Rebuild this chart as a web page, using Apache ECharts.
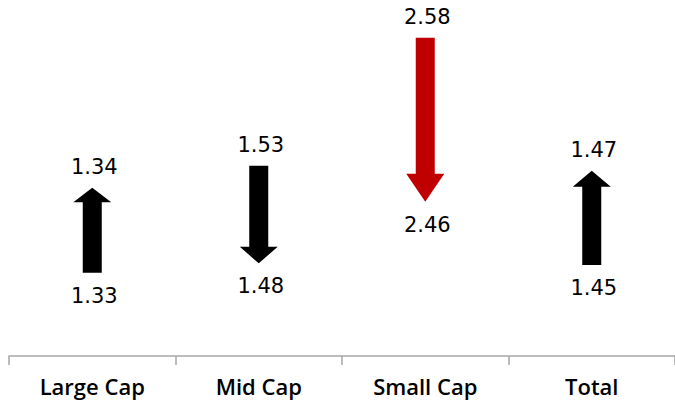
<!DOCTYPE html>
<html>
<head>
<meta charset="utf-8">
<script src="https://cdn.jsdelivr.net/npm/echarts@6/dist/echarts.min.js"></script>
<style>
  html, body { margin: 0; padding: 0; background: #fff; }
  #chart { width: 675px; height: 406px; }
</style>
</head>
<body>
<div id="chart"></div>
<script>
// Valuation multiple per segment: where it started and where it ended
const categories = ['Large Cap', 'Mid Cap', 'Small Cap', 'Total'];
const startValues = [1.33, 1.53, 2.58, 1.45];
const endValues = [1.34, 1.48, 2.46, 1.47];

// Each segment is read on its own vertical scale so small moves stay visible
const scaleMin = [1.3202, 1.4325, 2.3471, 1.4307];
const scaleMax = [1.3621, 1.6149, 2.6076, 1.5062];

const highlightCategory = 'Small Cap';
const LABEL_FONT = '21px "DejaVu Sans", sans-serif';

function renderArrow(params, api) {
  const cat = api.value(0);
  const from = api.value(1);
  const to = api.value(2);
  const p0 = api.coord([cat, from]);
  const p1 = api.coord([cat, to]);
  const x = p0[0];
  const dir = p1[1] < p0[1] ? -1 : 1;           // -1: arrow points up
  const len = Math.abs(p1[1] - p0[1]);
  const headLen = len * 0.17;
  const shaftHalf = 9.5;
  const headHalf = 19;
  const neckY = p1[1] - dir * headLen;
  const points = [
    [x - shaftHalf, p0[1]], [x + shaftHalf, p0[1]],
    [x + shaftHalf, neckY], [x + headHalf, neckY],
    [x, p1[1]],
    [x - headHalf, neckY], [x - shaftHalf, neckY]
  ];
  const fill = categories[cat] === highlightCategory ? '#c00000' : '#000000';
  const topY = Math.min(p0[1], p1[1]);
  const botY = Math.max(p0[1], p1[1]);
  const topVal = dir < 0 ? to : from;
  const botVal = dir < 0 ? from : to;
  return {
    type: 'group',
    children: [
      { type: 'polygon', shape: { points: points }, style: { fill: fill } },
      { type: 'text', x: x + 2, y: topY - 21,
        style: { text: topVal.toFixed(2), font: LABEL_FONT, fill: '#000', align: 'center', verticalAlign: 'middle' } },
      { type: 'text', x: x + 2, y: botY + 23,
        style: { text: botVal.toFixed(2), font: LABEL_FONT, fill: '#000', align: 'center', verticalAlign: 'middle' } }
    ]
  };
}

const yAxes = categories.map((c, i) => ({
  type: 'value', min: scaleMin[i], max: scaleMax[i], show: false, splitLine: { show: false }
}));

const series = categories.map((c, i) => ({
  type: 'custom',
  name: c,
  xAxisIndex: 0,
  yAxisIndex: i,
  renderItem: renderArrow,
  encode: { x: 0, y: [1, 2] },
  data: [[i, startValues[i], endValues[i]]],
  silent: true
}));

const chart = echarts.init(document.getElementById('chart'), null, { renderer: 'svg' });
chart.setOption({
  animation: false,
  backgroundColor: '#ffffff',
  grid: { left: 9, right: -2, top: 0, bottom: 50 },
  xAxis: {
    type: 'category',
    data: categories,
    boundaryGap: true,
    axisLine: { lineStyle: { color: '#a6a6a6', width: 1.5 } },
    axisTick: { show: true, length: 9, lineStyle: { color: '#a6a6a6', width: 1.5 } },
    axisLabel: { fontSize: 22, color: '#000', margin: 19, fontWeight: 600, fontFamily: '"Open Sans", sans-serif' }
  },
  yAxis: yAxes,
  series: series
});
</script>
</body>
</html>
